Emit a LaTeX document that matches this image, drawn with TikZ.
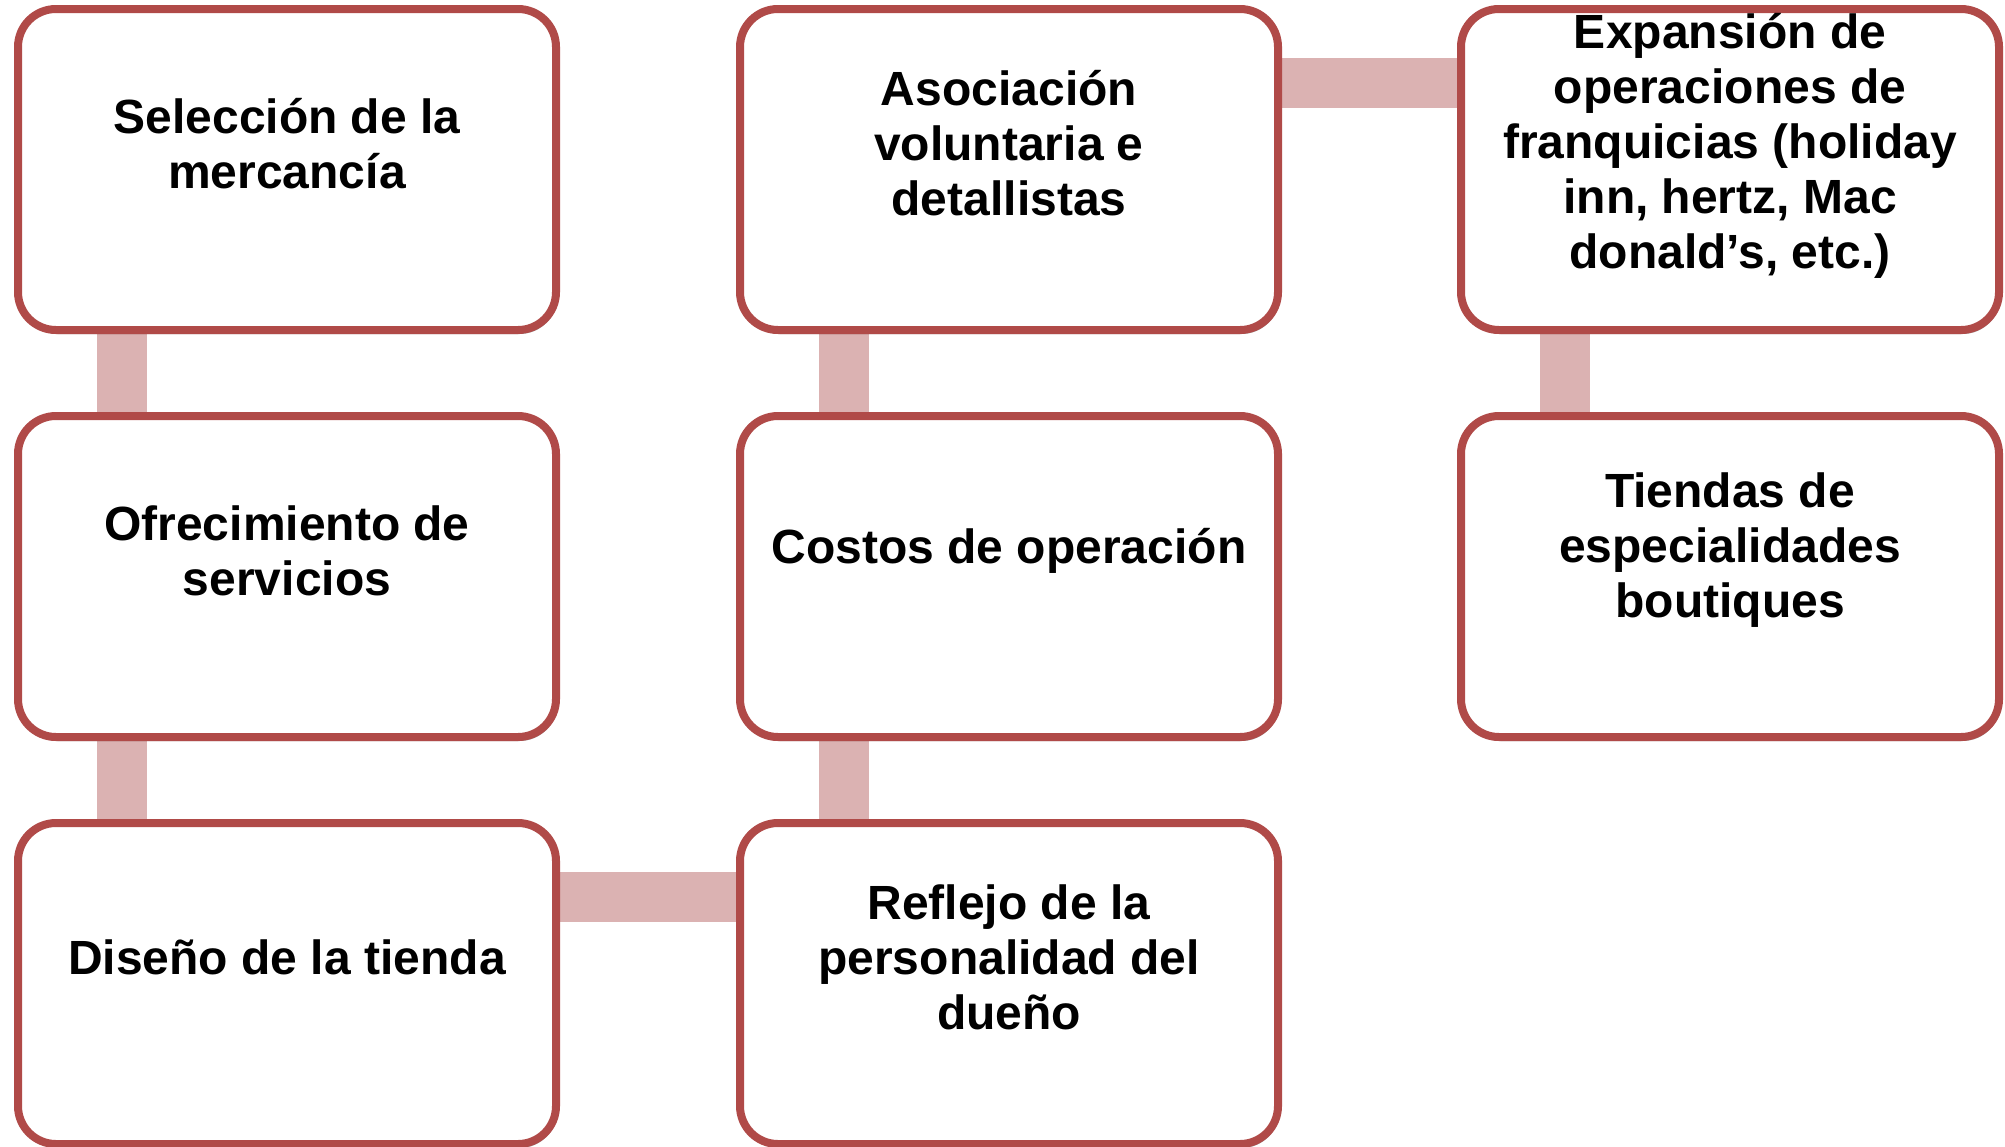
\documentclass[tikz,border=0pt]{standalone}
\usepackage{fontspec}
\setmainfont{Liberation Sans}
\usetikzlibrary{calc,shadows}
\definecolor{boxred}{RGB}{176,74,72}
\definecolor{linkpink}{RGB}{219,178,178}
\pgfdeclarelayer{bg}
\pgfsetlayers{bg,main}
\tikzset{
  stepbox/.style={draw=boxred, line width=4pt, fill=white, rounded corners=19pt,
    minimum width=269pt, minimum height=160.5pt, inner sep=0pt,
    drop shadow={shadow xshift=0.8pt, shadow yshift=-2pt, opacity=0.35, fill=black}},
  boxtext/.style={font=\bfseries\fontsize{24pt}{27.5pt}\selectfont, align=center, inner sep=0pt},
  link/.style={draw=linkpink, line width=25pt,
    preaction={draw=black!25, transform canvas={yshift=-1.6pt}}}
}
\begin{document}
\begin{tikzpicture}
\useasboundingbox (0,0) rectangle (1002.5pt,-573pt);
% boxes
\node[stepbox] (a1) at (143.5pt,-84.75pt) {};
\node[stepbox] (a2) at (143.5pt,-288.25pt) {};
\node[stepbox] (a3) at (143.5pt,-491.75pt) {};
\node[stepbox] (b1) at (504.5pt,-84.75pt) {};
\node[stepbox] (b2) at (504.5pt,-288.25pt) {};
\node[stepbox] (b3) at (504.5pt,-491.75pt) {};
\node[stepbox] (c1) at (865pt,-84.75pt) {};
\node[stepbox] (c2) at (865pt,-288.25pt) {};
% texts
\node[boxtext] (ta1) at ($(a1.center)+(0,13pt)$) {Selección de la\\mercancía};
\node[boxtext] (ta2) at ($(a2.center)+(0,13pt)$) {Ofrecimiento de\\servicios};
\node[boxtext] (ta3) at ($(a3.center)+(0,13pt)$) {Diseño de la tienda};
\node[boxtext] (tb1) at ($(b1.center)+(0,13pt)$) {Asociación\\voluntaria e\\detallistas};
\node[boxtext] (tb2) at ($(b2.center)+(0,13pt)$) {Costos de operación};
\node[boxtext] (tb3) at ($(b3.center)+(0,13pt)$) {Reflejo de la\\personalidad del\\dueño};
\node[boxtext] (tc1) at ($(c1.center)+(0,12pt)$) {Expansión de\\operaciones de\\franquicias (holiday\\inn, hertz, Mac\\donald’s, etc.)};
\node[boxtext] (tc2) at ($(c2.center)+(0,13pt)$) {Tiendas de\\especialidades\\boutiques};
% connectors
\begin{pgfonlayer}{bg}
\draw[link] ($(a1.south west)+(53.75pt,0)$) -- ($(a2.north west)+(53.75pt,0)$);
\draw[link] ($(a2.south west)+(53.75pt,0)$) -- ($(a3.north west)+(53.75pt,0)$);
\draw[link] ($(a3.north east)+(0,-39pt)$) -- ($(b3.north west)+(0,-39pt)$);
\draw[link] ($(b3.north west)+(53.75pt,0)$) -- ($(b2.south west)+(53.75pt,0)$);
\draw[link] ($(b2.north west)+(53.75pt,0)$) -- ($(b1.south west)+(53.75pt,0)$);
\draw[link] ($(b1.north east)+(0,-39pt)$) -- ($(c1.north west)+(0,-39pt)$);
\draw[link] ($(c1.south west)+(53.75pt,0)$) -- ($(c2.north west)+(53.75pt,0)$);
\end{pgfonlayer}
\end{tikzpicture}
\end{document}
